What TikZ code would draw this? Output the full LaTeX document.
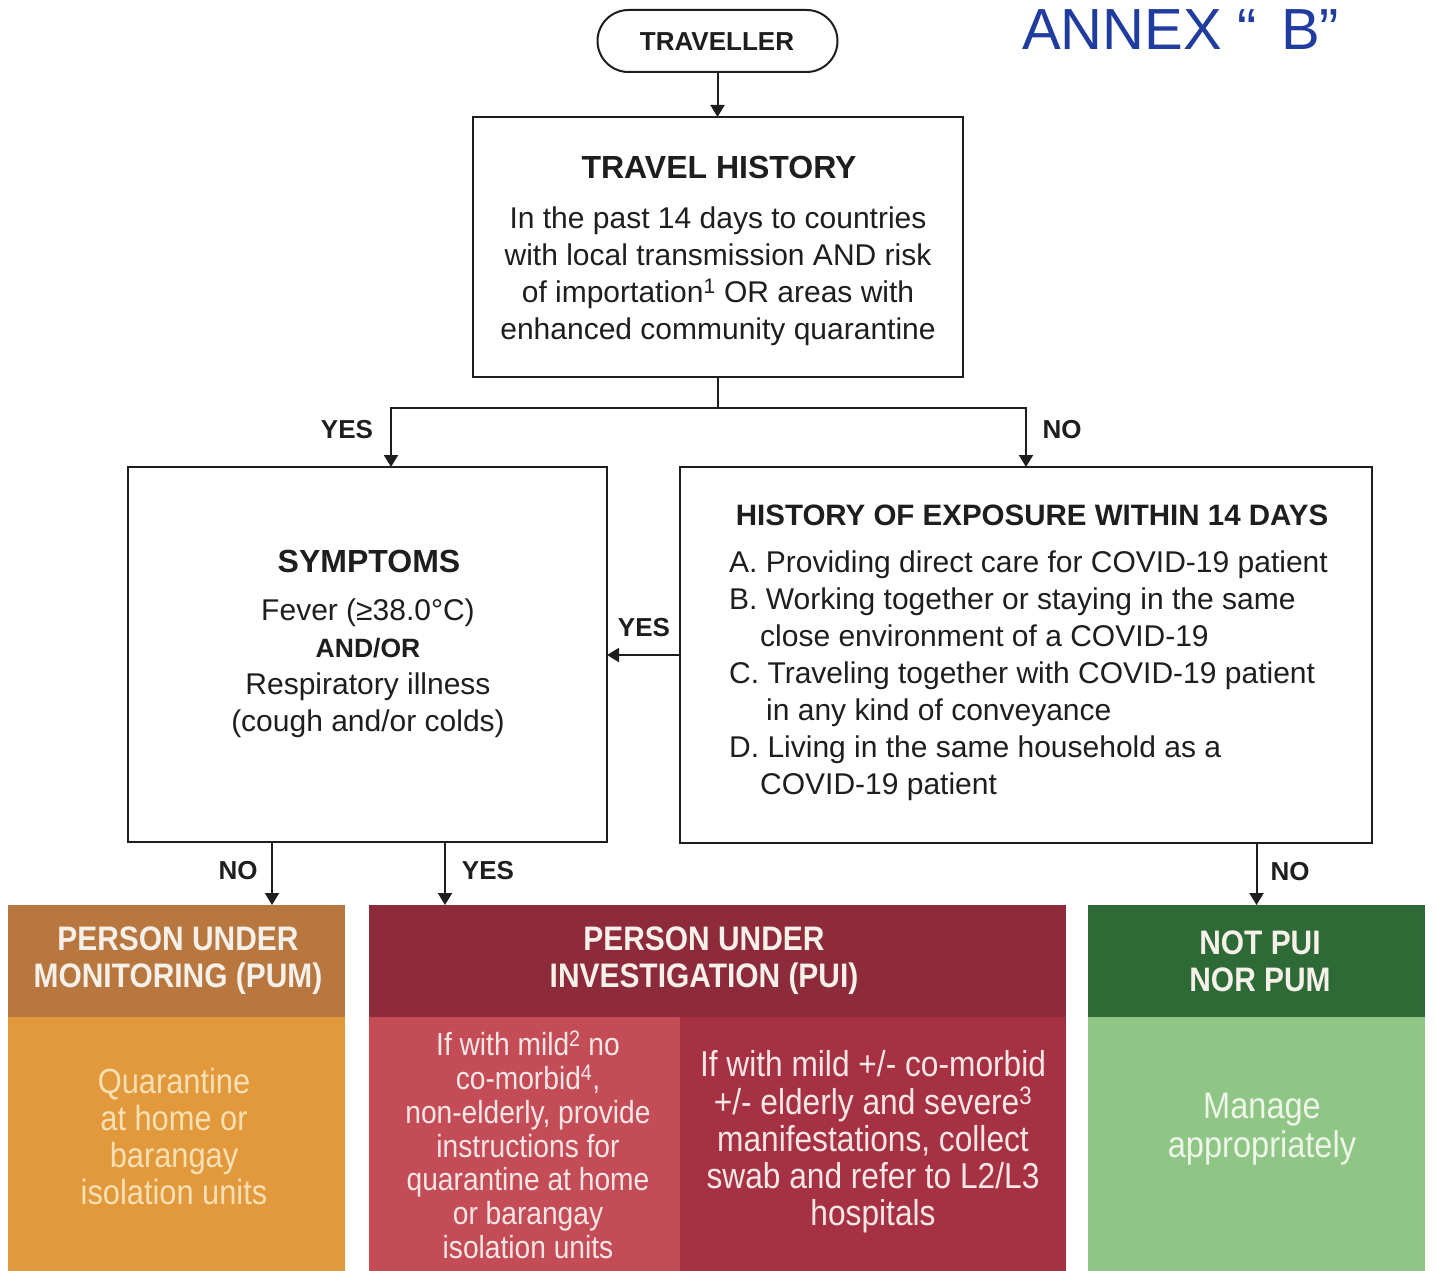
\documentclass[tikz,border=0pt]{standalone}
\usepackage{fontspec}
\setmainfont{Liberation Sans}
\newfontfamily\condfont[FakeStretch=0.88]{Liberation Sans}
\usetikzlibrary{arrows.meta}
\definecolor{ink}{HTML}{1E1E1E}
\definecolor{pumhead}{HTML}{B8773E}
\definecolor{pumbody}{HTML}{E2993C}
\definecolor{puihead}{HTML}{8E2B3A}
\definecolor{puileft}{HTML}{C44C57}
\definecolor{puiright}{HTML}{A63142}
\definecolor{grnhead}{HTML}{2D6A36}
\definecolor{grnbody}{HTML}{8FC585}
\definecolor{pentxt}{HTML}{1F3C9E}
\definecolor{headtxt}{HTML}{F6F0EA}
\definecolor{pumtxt}{HTML}{F8E0B4}
\definecolor{puitxt}{HTML}{F7E6E6}
\definecolor{grntxt}{HTML}{EEF6EA}
\tikzset{
  box/.style={draw=ink, line width=2pt, inner sep=0pt, outer sep=0pt},
  fillbox/.style={draw=none, inner sep=0pt, outer sep=0pt},
  conn/.style={draw=ink, line width=2pt, -{Triangle[width=14pt,length=12pt]}},
  lbl/.style={inner sep=0pt, text=ink, font=\fontsize{26pt}{30pt}\selectfont\bfseries},
  ttl/.style={inner sep=0pt, text=ink, font=\fontsize{32pt}{37pt}\selectfont\bfseries},
  bodytxt/.style={inner sep=0pt, text=ink, align=center, font=\fontsize{30pt}{37pt}\selectfont},
  headtext/.style={inner sep=0pt, text=headtxt, align=center, font=\condfont\fontsize{34pt}{37pt}\selectfont\bfseries},
}
\begin{document}
\begin{tikzpicture}[x=1pt,y=-1pt]
\useasboundingbox[fill=white] (0,0) rectangle (1435,1271);

% handwritten annotation
\node[inner sep=0pt, anchor=base west, text=pentxt, font=\fontsize{58pt}{58pt}\selectfont] (annex) at (1022,50) {ANNEX\hspace{16pt}“\hspace{24pt}B”};

% top boxes
\node[box, rounded corners=31pt, minimum width=240pt, minimum height=62pt] (trav) at (717.5,41) {};
\node[lbl] (travtxt) at (717,42) {TRAVELLER};

\node[box, minimum width=490pt, minimum height=260pt] (th) at (718,247) {};
\node[ttl] (thtitle) at (719,167) {TRAVEL HISTORY};
\node[bodytxt] (thbody) at (718,276) {In the past 14 days to countries\\with local transmission AND risk\\of importation\textsuperscript{1} OR areas with\\enhanced community quarantine};

\node[box, minimum width=479pt, minimum height=375pt] (symp) at (367.5,654.5) {};
\node[ttl] (symptitle) at (369,561) {SYMPTOMS};
\node[bodytxt] (sympbody) at (368,668) {Fever (≥38.0°C)\\{\fontsize{26.5pt}{37pt}\selectfont\bfseries AND/OR}\\Respiratory illness\\(cough and/or colds)};

\node[box, minimum width=692pt, minimum height=376pt] (hist) at (1026,655) {};
\node[ttl, font=\fontsize{29.5pt}{37pt}\selectfont\bfseries] (histtitle) at (1032,515) {HISTORY OF EXPOSURE WITHIN 14 DAYS};
\node[bodytxt, align=left, anchor=west] (histbody) at (729,676) {A. Providing direct care for COVID-19 patient\\B. Working together or staying in the same\\\hspace*{31pt}close environment of a COVID-19\\C. Traveling together with COVID-19 patient\\\hspace*{37pt}in any kind of conveyance\\D. Living in the same household as a\\\hspace*{31pt}COVID-19 patient};

% bottom boxes
\node[fillbox, fill=pumhead, minimum width=337pt, minimum height=112pt] (pumh) at (176.5,961) {};
\node[fillbox, fill=pumbody, minimum width=337pt, minimum height=263pt] (pumb) at (176.5,1148.5) {};
\node[fillbox, fill=puihead, minimum width=697pt, minimum height=112pt] (puih) at (717.5,961) {};
\node[fillbox, fill=puileft, minimum width=311pt, minimum height=263pt] (puil) at (524.5,1148.5) {};
\node[fillbox, fill=puiright, minimum width=386pt, minimum height=263pt] (puir) at (873,1148.5) {};
\node[fillbox, fill=grnhead, minimum width=337pt, minimum height=112pt] (grnh) at (1256.5,961) {};
\node[fillbox, fill=grnbody, minimum width=337pt, minimum height=263pt] (grnb) at (1256.5,1148.5) {};

\node[headtext] (pumhtxt) at (178,961) {PERSON UNDER\\MONITORING (PUM)};
\node[headtext] (puihtxt) at (704,961) {PERSON UNDER\\INVESTIGATION (PUI)};
\node[headtext] (grnhtxt) at (1260,961) {NOT PUI\\NOR PUM};

\node[inner sep=0pt, align=center, text=pumtxt, font=\condfont\fontsize{35pt}{37pt}\selectfont] (pumbtxt) at (174,1136) {Quarantine\\at home or\\barangay\\isolation units};
\node[inner sep=0pt, align=center, text=puitxt, font=\condfont\fontsize{32pt}{33.8pt}\selectfont] (puiltxt) at (528,1145) {If with mild\textsuperscript{2} no\\co-morbid\textsuperscript{4},\\non-elderly, provide\\instructions for\\quarantine at home\\or barangay\\isolation units};
\node[inner sep=0pt, align=center, text=puitxt, font=\condfont\fontsize{36pt}{37.3pt}\selectfont] (puirtxt) at (873,1142) {If with mild +/- co-morbid\\+/- elderly and severe\textsuperscript{3}\\manifestations, collect\\swab and refer to L2/L3\\hospitals};
\node[inner sep=0pt, align=center, text=grntxt, font=\condfont\fontsize{37pt}{39pt}\selectfont] (grnbtxt) at (1262,1129) {Manage\\appropriately};

% connectors
\draw[conn] (trav.south) -- (trav.south |- th.north);
\draw[conn] (th.south) -- ++(0,31) coordinate (split) -| ([xshift=23.5pt]symp.north);
\draw[conn] (split) -| (hist.north);
\draw[conn] (hist.west) -- (symp.east |- hist.west);
\draw[conn] ([xshift=95.5pt]pumh.north |- symp.south) -- ([xshift=95.5pt]pumh.north);
\draw[conn] ([xshift=-272.5pt]puih.north |- symp.south) -- ([xshift=-272.5pt]puih.north);
\draw[conn] (grnh.north |- hist.south) -- (grnh.north);

% labels
\node[lbl] (lyes1) at (347,430) {YES};
\node[lbl] (lno1) at (1062,430) {NO};
\node[lbl] (lyes2) at (644,628) {YES};
\node[lbl] (lno2) at (238,871) {NO};
\node[lbl] (lyes3) at (488,871) {YES};
\node[lbl] (lno3) at (1290,872) {NO};
\end{tikzpicture}
\end{document}
